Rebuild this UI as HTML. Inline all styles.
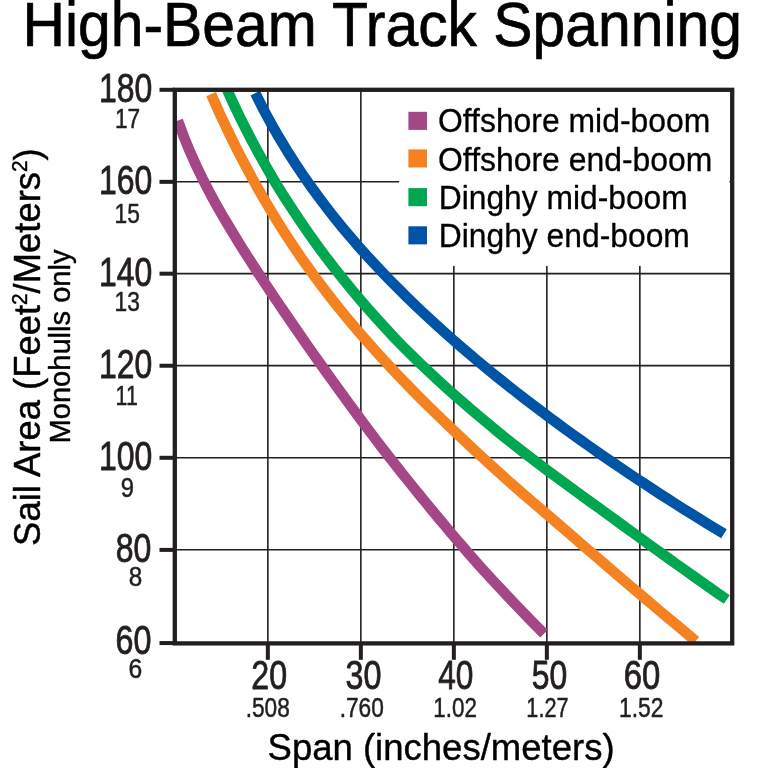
<!DOCTYPE html>
<html lang="en"><head><meta charset="utf-8"><title>High-Beam Track Spanning</title>
<style>html,body{margin:0;padding:0;background:#fff;}body{width:768px;height:768px;overflow:hidden;}svg{display:block;}text{font-family:"Liberation Sans",Arial,Helvetica,sans-serif;fill:#000;}.n text{fill:#231f20;}</style>
</head><body>
<svg width="768" height="768" viewBox="0 0 768 768">
<rect width="768" height="768" fill="#fff"/>
<text x="22.52" y="46.25" font-size="62.5" textLength="719.52" lengthAdjust="spacingAndGlyphs" stroke="#000" stroke-width="0.7" stroke-linejoin="round">High-Beam Track Spanning</text>
<g stroke="#231f20" stroke-width="1.6" fill="none">
<line x1="267.85" y1="89.8" x2="267.85" y2="643.4"/>
<line x1="360.85" y1="89.8" x2="360.85" y2="643.4"/>
<line x1="453.85" y1="89.8" x2="453.85" y2="643.4"/>
<line x1="546.85" y1="89.8" x2="546.85" y2="643.4"/>
<line x1="639.85" y1="89.8" x2="639.85" y2="643.4"/>
<line x1="174.8" y1="181.75" x2="732.2" y2="181.75"/>
<line x1="174.8" y1="273.59999999999997" x2="732.2" y2="273.59999999999997"/>
<line x1="174.8" y1="365.65" x2="732.2" y2="365.65"/>
<line x1="174.8" y1="457.7" x2="732.2" y2="457.7"/>
<line x1="174.8" y1="549.8" x2="732.2" y2="549.8"/>
</g>
<rect x="399.2" y="89.8" width="330.2" height="176.09999999999997" fill="#fff"/>
<clipPath id="pc"><rect x="174.8" y="89.8" width="557.4000000000001" height="553.6"/></clipPath>
<g fill="none" stroke-width="10.6" stroke-linecap="butt" stroke-linejoin="round" clip-path="url(#pc)">
<path stroke="#A54687" d="M177.8,120.6 L184.0,137.2 L190.2,152.2 L196.4,166.0 L202.6,178.8 L208.8,190.9 L215.0,202.4 L221.2,213.4 L227.5,224.0 L233.7,234.3 L239.9,244.4 L246.1,254.3 L252.3,263.9 L258.5,273.5 L264.7,282.9 L270.9,292.2 L277.1,301.4 L283.3,310.5 L289.5,319.6 L295.7,328.6 L301.9,337.6 L308.1,346.5 L314.3,355.3 L320.6,364.1 L326.8,372.8 L333.0,381.5 L339.2,390.1 L345.4,398.6 L351.6,407.1 L357.8,415.5 L364.0,423.9 L370.2,432.2 L376.4,440.4 L382.6,448.4 L388.8,456.4 L395.0,464.3 L401.2,472.2 L407.5,480.0 L413.7,487.7 L419.9,495.4 L426.1,503.0 L432.3,510.5 L438.5,518.0 L444.7,525.4 L450.9,532.8 L457.1,540.1 L463.3,547.3 L469.5,554.4 L475.7,561.4 L481.9,568.4 L488.1,575.2 L494.3,582.0 L500.6,588.7 L506.8,595.3 L513.0,601.9 L519.2,608.4 L525.4,614.8 L531.6,621.2 L537.8,627.5 L544.0,633.7"/>
<path stroke="#F58220" d="M211.1,94.2 L219.3,112.6 L227.5,130.1 L235.7,146.9 L244.0,162.9 L252.2,178.2 L260.4,192.9 L268.6,206.9 L276.8,220.4 L285.0,233.4 L293.2,245.9 L301.4,258.0 L309.7,269.6 L317.9,280.8 L326.1,291.7 L334.3,302.2 L342.5,312.5 L350.7,322.4 L358.9,332.1 L367.2,341.6 L375.4,350.8 L383.6,359.8 L391.8,368.7 L400.0,377.3 L408.2,385.8 L416.4,394.2 L424.7,402.4 L432.9,410.5 L441.1,418.5 L449.3,426.4 L457.5,434.2 L465.7,441.9 L473.9,449.6 L482.1,457.2 L490.4,464.7 L498.6,472.2 L506.8,479.6 L515.0,486.8 L523.2,494.0 L531.4,501.0 L539.6,508.1 L547.9,515.1 L556.1,522.1 L564.3,529.2 L572.5,536.3 L580.7,543.4 L588.9,550.5 L597.1,557.5 L605.4,564.6 L613.6,571.7 L621.8,578.7 L630.0,585.7 L638.2,592.6 L646.4,599.6 L654.6,606.5 L662.8,613.5 L671.1,620.4 L679.3,627.2 L687.5,634.1 L695.7,641.1"/>
<path stroke="#00A650" d="M224.1,83.0 L232.6,101.9 L241.1,119.7 L249.7,136.5 L258.2,152.5 L266.7,167.7 L275.2,182.2 L283.7,196.0 L292.3,209.2 L300.8,221.9 L309.3,234.2 L317.8,246.1 L326.3,257.6 L334.9,268.7 L343.4,279.4 L351.9,289.9 L360.4,300.0 L368.9,309.8 L377.5,319.4 L386.0,328.7 L394.5,337.8 L403.0,346.6 L411.5,355.1 L420.0,363.4 L428.6,371.4 L437.1,379.3 L445.6,387.1 L454.1,394.7 L462.6,402.1 L471.2,409.5 L479.7,416.7 L488.2,423.8 L496.7,430.9 L505.2,437.8 L513.8,444.6 L522.3,451.2 L530.8,457.8 L539.3,464.3 L547.8,470.7 L556.4,477.0 L564.9,483.3 L573.4,489.5 L581.9,495.7 L590.4,501.9 L599.0,508.0 L607.5,514.2 L616.0,520.4 L624.5,526.6 L633.0,532.8 L641.6,539.0 L650.1,545.2 L658.6,551.3 L667.1,557.4 L675.6,563.5 L684.2,569.5 L692.7,575.6 L701.2,581.6 L709.7,587.6 L718.2,593.6 L726.8,599.5"/>
<path stroke="#0054A6" d="M255.3,93.2 L263.2,108.9 L271.2,123.7 L279.1,137.6 L287.1,150.8 L295.0,163.2 L303.0,175.1 L310.9,186.5 L318.9,197.4 L326.8,207.9 L334.7,218.0 L342.7,227.8 L350.6,237.2 L358.6,246.4 L366.5,255.3 L374.5,263.9 L382.4,272.4 L390.3,280.6 L398.3,288.6 L406.2,296.5 L414.2,304.2 L422.1,311.8 L430.1,319.2 L438.0,326.4 L446.0,333.6 L453.9,340.6 L461.8,347.5 L469.8,354.3 L477.7,361.0 L485.7,367.6 L493.6,374.1 L501.6,380.5 L509.5,386.8 L517.5,393.1 L525.4,399.2 L533.3,405.3 L541.3,411.3 L549.2,417.3 L557.2,423.1 L565.1,428.9 L573.1,434.7 L581.0,440.4 L589.0,446.0 L596.9,451.6 L604.8,457.1 L612.8,462.5 L620.7,467.9 L628.7,473.3 L636.6,478.6 L644.6,483.8 L652.5,489.0 L660.4,494.2 L668.4,499.3 L676.3,504.4 L684.3,509.4 L692.2,514.3 L700.2,519.3 L708.1,524.2 L716.1,529.0 L724.0,533.8"/>
</g>
<g stroke="#231f20" fill="none" stroke-width="4.3">
<rect x="174.8" y="89.8" width="557.4000000000001" height="553.6"/>
</g>
<g stroke="#231f20" fill="none" stroke-width="4">
<line x1="159.5" y1="89.8" x2="174.8" y2="89.8"/>
<line x1="159.5" y1="181.85" x2="174.8" y2="181.85"/>
<line x1="159.5" y1="273.7" x2="174.8" y2="273.7"/>
<line x1="159.5" y1="365.75" x2="174.8" y2="365.75"/>
<line x1="159.5" y1="457.8" x2="174.8" y2="457.8"/>
<line x1="159.5" y1="549.9" x2="174.8" y2="549.9"/>
<line x1="159.5" y1="643.05" x2="174.8" y2="643.05"/>
<line x1="267.85" y1="643.4" x2="267.85" y2="659.8"/>
<line x1="360.85" y1="643.4" x2="360.85" y2="659.8"/>
<line x1="453.85" y1="643.4" x2="453.85" y2="659.8"/>
<line x1="546.85" y1="643.4" x2="546.85" y2="659.8"/>
<line x1="639.85" y1="643.4" x2="639.85" y2="659.8"/>
</g>
<rect x="408.4" y="111.8" width="18.6" height="18.1" fill="#A54687"/>
<text x="438.04" y="132.45" font-size="32.57" textLength="272.21" lengthAdjust="spacingAndGlyphs" stroke="#000" stroke-width="0.3" stroke-linejoin="round">Offshore mid-boom</text>
<rect x="408.4" y="149.4" width="18.6" height="18.1" fill="#F58220"/>
<text x="438.04" y="170.75" font-size="32.57" textLength="274.31" lengthAdjust="spacingAndGlyphs" stroke="#000" stroke-width="0.3" stroke-linejoin="round">Offshore end-boom</text>
<rect x="408.4" y="188.1" width="18.6" height="18.1" fill="#00A650"/>
<text x="438.74" y="209.15" font-size="32.57" textLength="249.0" lengthAdjust="spacingAndGlyphs" stroke="#000" stroke-width="0.3" stroke-linejoin="round">Dinghy mid-boom</text>
<rect x="408.4" y="226.3" width="18.6" height="18.1" fill="#0054A6"/>
<text x="438.74" y="247.45" font-size="32.57" textLength="251.11" lengthAdjust="spacingAndGlyphs" stroke="#000" stroke-width="0.3" stroke-linejoin="round">Dinghy end-boom</text>
<g class="n">
<text x="99.07" y="101.6" font-size="39.86" textLength="53.28" lengthAdjust="spacingAndGlyphs" stroke="#231f20" stroke-width="0.8" stroke-linejoin="round">180</text>
<text x="99.07" y="193.8" font-size="39.86" textLength="53.28" lengthAdjust="spacingAndGlyphs" stroke="#231f20" stroke-width="0.8" stroke-linejoin="round">160</text>
<text x="99.07" y="285.6" font-size="39.86" textLength="53.28" lengthAdjust="spacingAndGlyphs" stroke="#231f20" stroke-width="0.8" stroke-linejoin="round">140</text>
<text x="99.07" y="377.6" font-size="39.86" textLength="53.28" lengthAdjust="spacingAndGlyphs" stroke="#231f20" stroke-width="0.8" stroke-linejoin="round">120</text>
<text x="99.07" y="469.8" font-size="39.86" textLength="53.28" lengthAdjust="spacingAndGlyphs" stroke="#231f20" stroke-width="0.8" stroke-linejoin="round">100</text>
<text x="115.76" y="562.4" font-size="39.86" textLength="35.59" lengthAdjust="spacingAndGlyphs" stroke="#231f20" stroke-width="0.8" stroke-linejoin="round">80</text>
<text x="115.51" y="654.4" font-size="39.86" textLength="35.85" lengthAdjust="spacingAndGlyphs" stroke="#231f20" stroke-width="0.8" stroke-linejoin="round">60</text>
<text x="114.92" y="127.65" font-size="27.49" textLength="25.27" lengthAdjust="spacingAndGlyphs" stroke="#231f20" stroke-width="0.5" stroke-linejoin="round">17</text>
<text x="114.61" y="223.45" font-size="27.49" textLength="25.34" lengthAdjust="spacingAndGlyphs" stroke="#231f20" stroke-width="0.5" stroke-linejoin="round">15</text>
<text x="114.61" y="311.45" font-size="27.49" textLength="25.39" lengthAdjust="spacingAndGlyphs" stroke="#231f20" stroke-width="0.5" stroke-linejoin="round">13</text>
<text x="115.62" y="404.75" font-size="27.49" textLength="22.17" lengthAdjust="spacingAndGlyphs" stroke="#231f20" stroke-width="0.5" stroke-linejoin="round">11</text>
<text x="120.63" y="497.35" font-size="27.49" textLength="13.24" lengthAdjust="spacingAndGlyphs" stroke="#231f20" stroke-width="0.5" stroke-linejoin="round">9</text>
<text x="128.79" y="585.55" font-size="27.49" textLength="13.51" lengthAdjust="spacingAndGlyphs" stroke="#231f20" stroke-width="0.5" stroke-linejoin="round">8</text>
<text x="128.6" y="678.15" font-size="27.49" textLength="13.74" lengthAdjust="spacingAndGlyphs" stroke="#231f20" stroke-width="0.5" stroke-linejoin="round">6</text>
<text x="251.28" y="688.8" font-size="39.86" textLength="35.83" lengthAdjust="spacingAndGlyphs" stroke="#231f20" stroke-width="0.8" stroke-linejoin="round">20</text>
<text x="345.42" y="688.8" font-size="39.86" textLength="35.94" lengthAdjust="spacingAndGlyphs" stroke="#231f20" stroke-width="0.8" stroke-linejoin="round">30</text>
<text x="438.17" y="688.8" font-size="39.86" textLength="35.16" lengthAdjust="spacingAndGlyphs" stroke="#231f20" stroke-width="0.8" stroke-linejoin="round">40</text>
<text x="531.87" y="688.8" font-size="39.86" textLength="35.47" lengthAdjust="spacingAndGlyphs" stroke="#231f20" stroke-width="0.8" stroke-linejoin="round">50</text>
<text x="623.83" y="688.8" font-size="39.86" textLength="36.55" lengthAdjust="spacingAndGlyphs" stroke="#231f20" stroke-width="0.8" stroke-linejoin="round">60</text>
<text x="245.68" y="717.05" font-size="27.49" textLength="44.16" lengthAdjust="spacingAndGlyphs" stroke="#231f20" stroke-width="0.5" stroke-linejoin="round">.508</text>
<text x="339.68" y="717.05" font-size="27.49" textLength="44.21" lengthAdjust="spacingAndGlyphs" stroke="#231f20" stroke-width="0.5" stroke-linejoin="round">.760</text>
<text x="433.29" y="717.05" font-size="27.49" textLength="43.58" lengthAdjust="spacingAndGlyphs" stroke="#231f20" stroke-width="0.5" stroke-linejoin="round">1.02</text>
<text x="526.35" y="717.05" font-size="27.49" textLength="42.24" lengthAdjust="spacingAndGlyphs" stroke="#231f20" stroke-width="0.5" stroke-linejoin="round">1.27</text>
<text x="619.01" y="717.05" font-size="27.49" textLength="44.49" lengthAdjust="spacingAndGlyphs" stroke="#231f20" stroke-width="0.5" stroke-linejoin="round">1.52</text>
</g>
<text x="267.54" y="759.5" font-size="37.43" textLength="347.02" lengthAdjust="spacingAndGlyphs" stroke="#000" stroke-width="0.4" stroke-linejoin="round">Span (inches/meters)</text>
<text transform="translate(39.7,545.9) rotate(-90)" font-size="37.8" textLength="397.6" lengthAdjust="spacingAndGlyphs" stroke="#000" stroke-width="0.45" stroke-linejoin="round">Sail Area (Feet<tspan font-size="21.5" dy="-12.5">2</tspan><tspan dy="12.5">/Meters</tspan><tspan font-size="21.5" dy="-12.5">2</tspan><tspan dy="12.5">)</tspan></text>
<g transform="translate(70,0) rotate(-90)"><text x="-443.43" y="-0.2" font-size="28.73" textLength="193.89" lengthAdjust="spacingAndGlyphs" stroke="#000" stroke-width="0.4" stroke-linejoin="round">Monohulls only</text></g>
</svg></body></html>
